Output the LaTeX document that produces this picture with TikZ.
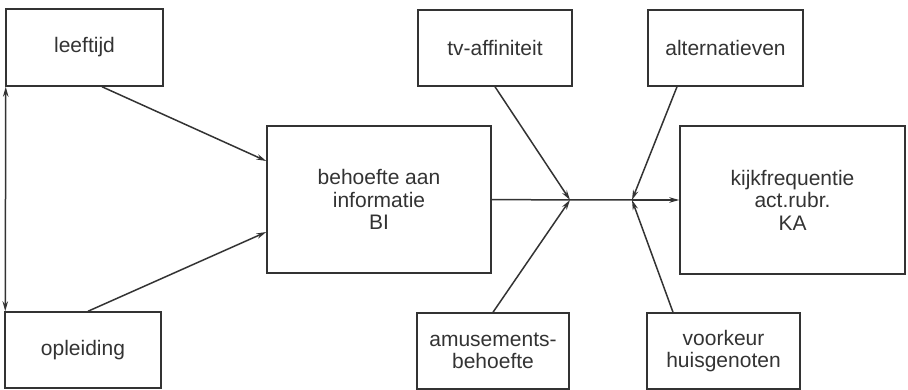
\documentclass[tikz,border=0pt]{standalone}
\usepackage{fontspec}
\setmainfont{Liberation Sans}
\usetikzlibrary{arrows.meta}
\begin{document}
\begin{tikzpicture}[x=1pt,y=-1pt,
  ink/.style={draw=black!80,line width=1.5pt},
  box/.style={ink,rectangle,inner sep=0pt,align=center,text=black!80,
    font=\fontsize{21}{22.5}\selectfont},
  conn/.style={ink,-{Stealth[length=10pt,width=5.5pt]}},
  biconn/.style={ink,{Stealth[length=10pt,width=5.5pt]}-{Stealth[length=10pt,width=5.5pt]}},
  plain/.style={ink}]
\useasboundingbox (0,0) rectangle (908,390);
\node[box,minimum width=157pt,minimum height=77pt] (leeftijd) at (84.5,47.5) {leeftijd};
\node[box,minimum width=156pt,minimum height=76pt] (opleiding) at (83,350) {opleiding};
\node[box,minimum width=224pt,minimum height=147pt] (BI) at (379,199.5) {behoefte aan\\informatie\\BI};
\node[box,minimum width=154pt,minimum height=76pt] (tv) at (495,48) {tv-affiniteit};
\node[box,minimum width=152pt,minimum height=76pt] (amus) at (493,351) {amusements-\\behoefte};
\node[box,minimum width=155pt,minimum height=76pt] (alt) at (725.5,48) {alternatieven};
\node[box,minimum width=225pt,minimum height=148pt] (KA) at (792.5,200) {kijkfrequentie\\act.rubr.\\KA};
\node[box,minimum width=153pt,minimum height=76pt] (voork) at (723.5,351) {voorkeur\\huisgenoten};
\coordinate (j1) at (570,200);
\coordinate (j2) at (632,200);
\draw[conn] ([xshift=17.5pt]leeftijd.south) -- ([yshift=38.5pt]BI.west);
\draw[conn] ([xshift=5pt]opleiding.north) -- ([yshift=-32.5pt]BI.west);
\draw[biconn] ([xshift=0.5pt]leeftijd.south west) -- ([xshift=1pt]opleiding.north west);
\draw[plain] (BI.east) -- (j1) -- (j2);
\draw[conn] (j2) -- (KA.west);
\draw[conn] (tv.south) -- (j1);
\draw[conn] (amus.north) -- (j1);
\draw[conn] ([xshift=-48.5pt]alt.south) -- (j2);
\draw[conn] ([xshift=-50.5pt]voork.north) -- (j2);
\end{tikzpicture}
\end{document}
